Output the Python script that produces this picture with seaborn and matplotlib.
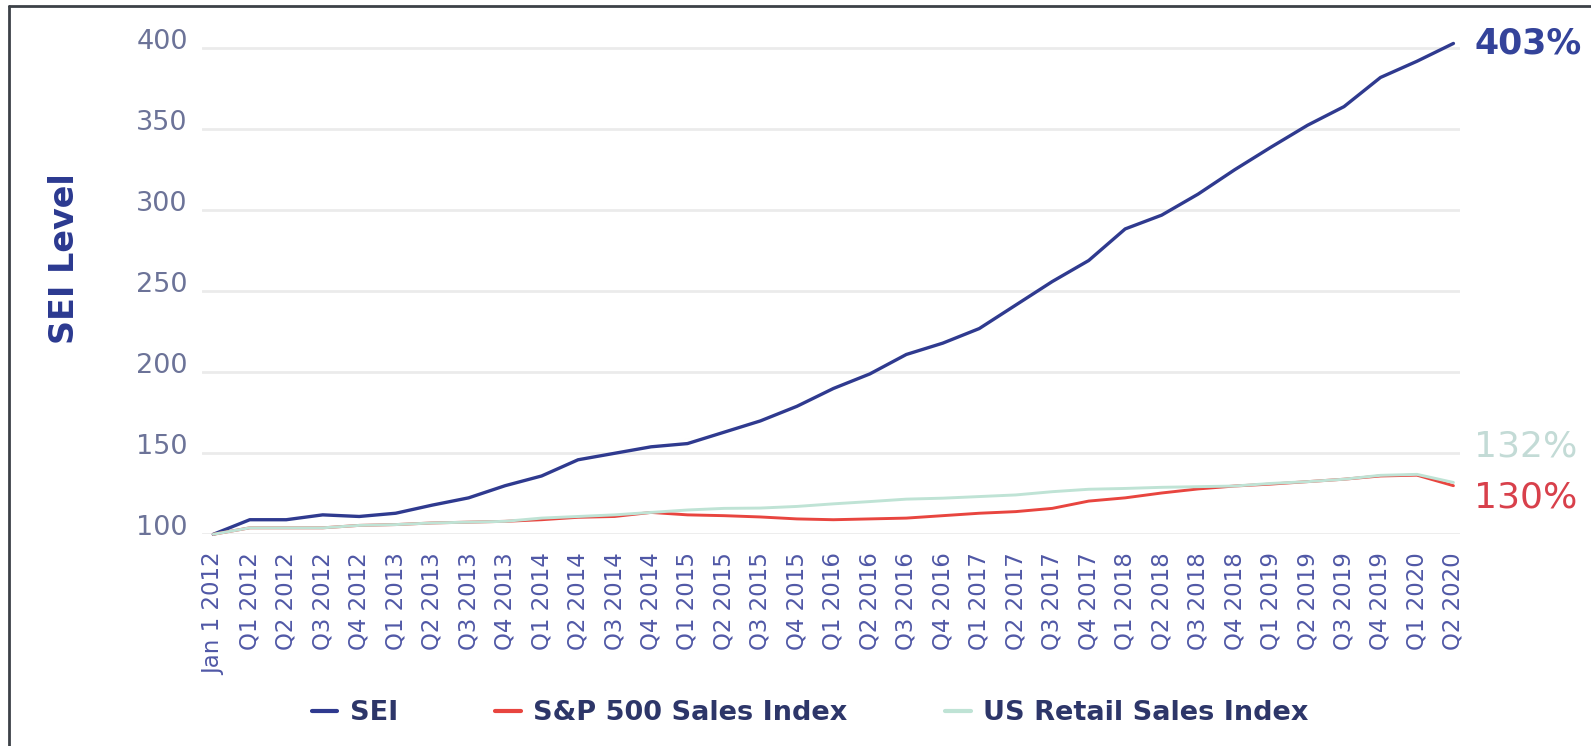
import matplotlib
matplotlib.use("Agg")
import matplotlib.pyplot as plt
import matplotlib.transforms as mtransforms
from matplotlib.lines import Line2D
import numpy as np
import pandas as pd
import seaborn as sns

# Quarterly index levels (Jan 1 2012 = 100)
periods = ["Jan 1 2012"] + [f"Q{q} {y}" for y in range(2012, 2020) for q in range(1, 5)] + ["Q1 2020", "Q2 2020"]

sei = [100, 109, 109, 112, 111, 113, 118, 122.5, 130, 136, 146, 150, 154, 156,
       163, 170, 179, 190, 199, 211, 218, 227, 241.5, 256, 269, 288.5, 297, 310,
       325, 339, 352.5, 364, 382, 392, 403]

sp500_sales = [100, 104, 104, 104, 105.5, 106, 107, 107.5, 108, 109, 110.5, 111, 113.5,
               112, 111.5, 110.7, 109.5, 109, 109.5, 110, 111.5, 113, 114, 116, 120.5,
               122.5, 125.5, 128, 129.8, 131, 132.5, 134, 136, 136.5, 130]

us_retail_sales = [100, 104, 104, 104, 105.5, 106, 107, 107.5, 108, 110, 111, 112, 113.5,
                   115, 116, 116.2, 117.2, 118.8, 120.2, 121.7, 122.3, 123.3, 124.3, 126.3,
                   127.8, 128.3, 129, 129.4, 129.8, 131.4, 132.5, 134, 136.4, 137, 132]

series_names = ["SEI", "S&P 500 Sales Index", "US Retail Sales Index"]
series_colors = ["#2F3A8F", "#E8453F", "#BFE3D5"]
label_colors = ["#34439A", "#D8404B", "#C3DBD6"]

df = pd.DataFrame({
    "idx": np.tile(np.arange(len(periods)), 3),
    "level": sei + sp500_sales + us_retail_sales,
    "series": np.repeat(series_names, len(periods)),
})

sns.set_theme(style="white")
plt.rcParams["font.family"] = ["DejaVu Sans"]

W, H = 1591, 746
fig = plt.figure(figsize=(W / 100, H / 100), dpi=100)
fig.patch.set_facecolor("white")

# axes placement in pixels
ax_left, ax_right = 201.7, 1460.0
ax_bottom_px, ax_top_px = 534.3, 32.1
ax = fig.add_axes([ax_left / W, 1 - ax_bottom_px / H,
                   (ax_right - ax_left) / W, (ax_bottom_px - ax_top_px) / H])

sns.lineplot(data=df, x="idx", y="level", hue="series", hue_order=series_names,
             palette=dict(zip(series_names, series_colors)), linewidth=2.3,
             legend=False, ax=ax)
for ln, lw in zip(ax.get_lines(), [2.4, 2.1, 2.1]):
    ln.set_linewidth(lw)
    ln.set_solid_joinstyle("round")
    ln.set_clip_on(False)

ax.set_xlim(-0.318, 34.18)
ax.set_ylim(100, 410)
ax.set_yticks([100, 150, 200, 250, 300, 350, 400])
ax.set_xticks(np.arange(len(periods)))
ax.set_xticklabels(periods, rotation=90, fontsize=16.5, color="#5058A6")
ax.tick_params(axis="x", length=0, pad=13)
ax.tick_params(axis="y", length=0, pad=10, labelsize=19.5, labelcolor="#6C7398")
ax.set_xlabel("")
ax.set_ylabel("")
for s in ax.spines.values():
    s.set_visible(False)
ax.grid(axis="y", color="#EBEBEB", linewidth=2)
ax.grid(axis="x", visible=False)

# y tick labels sit slightly above their grid lines
lift = mtransforms.ScaledTranslation(0, 9 / 100, fig.dpi_scale_trans)
for lab in ax.get_yticklabels():
    lab.set_transform(lab.get_transform() + lift)

fig.text(64 / W, 1 - 259 / H, "SEI Level", rotation=90, ha="center", va="center",
         fontsize=24, fontweight="bold", color="#2B3990")

# end-of-line value labels
xlab = (1474 - 213.3) / 36.47
ax.text(xlab, sei[-1], f"{sei[-1]:.0f}%", ha="left", va="center", fontsize=25,
        fontweight="bold", color=label_colors[0], clip_on=False)
ax.text(xlab, 154.5, f"{us_retail_sales[-1]:.0f}%", ha="left", va="center", fontsize=26,
        color=label_colors[2], clip_on=False)
ax.text(xlab, 123, f"{sp500_sales[-1]:.0f}%", ha="left", va="center", fontsize=26,
        color=label_colors[1], clip_on=False)

handles = [Line2D([0], [0], color=c, lw=3) for c in series_colors]
leg = fig.legend(handles, series_names, loc="center", bbox_to_anchor=(810 / W, 1 - 713 / H),
                 ncol=3, frameon=False, fontsize=19.5, handlelength=0.95, handletextpad=0.45,
                 columnspacing=3.6)
for t in leg.get_texts():
    t.set_color("#2D3669")
    t.set_fontweight("bold")

# outer frame (top and left edges)
fig.add_artist(Line2D([9 / W, 1], [1 - 6 / H, 1 - 6 / H], color="#3C4147", lw=2,
                      transform=fig.transFigure))
fig.add_artist(Line2D([9 / W, 9 / W], [1 - 6 / H, 0], color="#3C4147", lw=2,
                      transform=fig.transFigure))

fig.savefig("out.png", dpi=100, facecolor="white")
